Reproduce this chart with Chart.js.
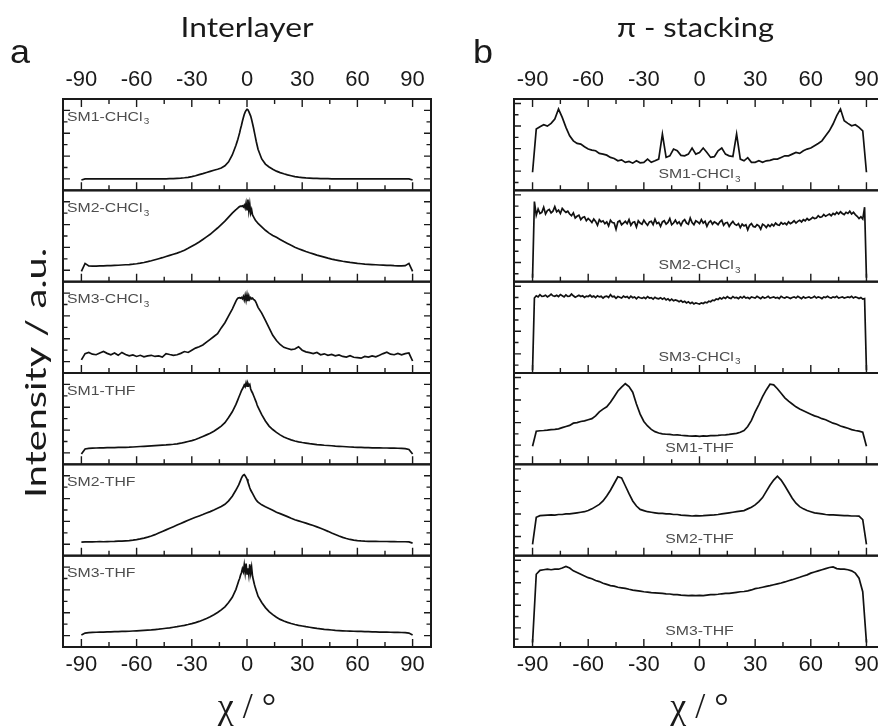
<!DOCTYPE html>
<html><head><meta charset="utf-8">
<script src="https://cdn.jsdelivr.net/npm/chart.js@4.4.1/dist/chart.umd.min.js"></script>
<style>
html,body{margin:0;padding:0;background:#fff;overflow:hidden;width:878px;height:728px;}
#wrap{position:relative;width:878px;height:728px;overflow:hidden;background:#fff;}
#cL{position:absolute;left:0;top:0;width:470px;height:728px;}
#cR{position:absolute;left:470px;top:0;width:420px;height:728px;}
</style></head><body>
<div id="wrap"><canvas id="cL" width="470" height="728"></canvas><canvas id="cR" width="420" height="728"></canvas></div>
<script>
// ---------- data ----------
const samples = ['SM1-CHCl₃','SM2-CHCl₃','SM3-CHCl₃','SM1-THF','SM2-THF','SM3-THF'];
const xTickMajor = [-90,-60,-30,0,30,60,90];
const xTickMinor = [-75,-45,-15,15,45,75];
const yTicksInter = [0,1,2,3,4,5,6];
const yTicksPi = [0,1,2,3,4,5,6,7];

// chi grid for interlayer profiles (finer around the peak)
const chiL = [
 -90,-88,-86,-84,-82,-80,-78,-76,-74,-72,-70,-68,-66,-64,-62,-60,-58,-56,-54,-52,
 -50,-48,-46,-44,-42,-40,-38,-36,-34,-32,-30,-28,-26,-24,-22,-20,-18,-16,-14,-12,-10,-8,
 -6,-5.5,-5,-4.5,-4,-3.5,-3,-2.5,-2,-1.5,-1,-0.5,0,0.5,1,1.5,2,2.5,3,3.5,4,4.5,5,5.5,6,
 8,10,12,14,16,18,20,22,24,26,28,30,32,34,36,38,40,42,44,46,
 48,50,52,54,56,58,60,62,64,66,68,70,72,74,76,78,80,82,84,86,88,90
];
// chi grid for pi-stacking profiles (2 deg)
const chiR = [
 -90,-88,-86,-84,-82,-80,-78,-76,-74,-72,
 -70,-68,-66,-64,-62,-60,-58,-56,-54,-52,
 -50,-48,-46,-44,-42,-40,-38,-36,-34,-32,
 -30,-28,-26,-24,-22,-20,-18,-16,-14,-12,
 -10,-8,-6,-4,-2,0,2,4,6,8,
 10,12,14,16,18,20,22,24,26,28,
 30,32,34,36,38,40,42,44,46,48,
 50,52,54,56,58,60,62,64,66,68,
 70,72,74,76,78,80,82,84,86,88,
 90
];
// chi grid for the noisy pi-stacking profiles (1 deg)
const chiN = [
 -90,-89,-88,-87,-86,-85,-84,-83,-82,-81,
 -80,-79,-78,-77,-76,-75,-74,-73,-72,-71,
 -70,-69,-68,-67,-66,-65,-64,-63,-62,-61,
 -60,-59,-58,-57,-56,-55,-54,-53,-52,-51,
 -50,-49,-48,-47,-46,-45,-44,-43,-42,-41,
 -40,-39,-38,-37,-36,-35,-34,-33,-32,-31,
 -30,-29,-28,-27,-26,-25,-24,-23,-22,-21,
 -20,-19,-18,-17,-16,-15,-14,-13,-12,-11,
 -10,-9,-8,-7,-6,-5,-4,-3,-2,-1,
 0,1,2,3,4,5,6,7,8,9,
 10,11,12,13,14,15,16,17,18,19,
 20,21,22,23,24,25,26,27,28,29,
 30,31,32,33,34,35,36,37,38,39,
 40,41,42,43,44,45,46,47,48,49,
 50,51,52,53,54,55,56,57,58,59,
 60,61,62,63,64,65,66,67,68,69,
 70,71,72,73,74,75,76,77,78,79,
 80,81,82,83,84,85,86,87,88,89,
 90
];

// ---- Interlayer (a) intensities, a.u. ----
const interSM1CHCl3 = [
 -0.1,0,0,0.01,0,0,0,0.01,0,0,0.01,0,0,0.01,0,0,0,0.01,0,0,
 0,0,0.01,0.01,0.02,0.03,0.05,0.07,0.1,0.14,0.2,0.28,0.37,0.46,0.56,0.66,0.76,0.85,0.95,1.15,1.5,2.1,
 2.95,3.2,3.45,3.75,4.05,4.4,4.7,5.05,5.35,5.65,5.85,6.0,6.1,6.05,5.9,5.7,5.5,5.2,4.85,4.5,4.1,3.7,3.3,2.95,2.6,
 1.75,1.3,1.05,0.85,0.68,0.55,0.45,0.36,0.28,0.2,0.15,0.12,0.09,0.07,0.05,0.04,0.03,0.02,0.02,0.01,
 0.01,0,0,0.01,0,0,0,0.01,0,0,0,0,0.01,0,0,0,0,0,0,0,0,-0.1
];
const interSM2CHCl3 = [
 -0.1,0.6,0.38,0.36,0.37,0.38,0.38,0.4,0.4,0.42,0.44,0.46,0.48,0.5,0.53,0.57,0.62,0.68,0.75,0.83,
 0.92,1.01,1.1,1.2,1.3,1.4,1.5,1.62,1.76,1.92,2.1,2.28,2.48,2.7,2.92,3.15,3.42,3.7,4.0,4.3,4.65,5.0,
 5.3,5.38,5.45,5.52,5.58,5.62,5.6,5.65,5.55,5.7,5.45,5.9,5.3,6.2,5.2,5.8,5.0,5.3,4.85,4.7,4.55,4.4,4.3,4.2,4.1,
 3.8,3.5,3.25,3.05,2.88,2.7,2.52,2.35,2.18,2.02,1.88,1.76,1.64,1.53,1.43,1.33,1.24,1.15,1.06,0.98,
 0.91,0.85,0.79,0.74,0.69,0.65,0.6,0.57,0.54,0.52,0.5,0.48,0.46,0.45,0.43,0.42,0.4,0.39,0.38,0.4,0.6,-0.1
];
const interSM3CHCl3 = [
 0.15,0.7,0.8,0.65,0.6,0.75,0.88,0.72,0.6,0.75,0.55,0.8,0.62,0.5,0.58,0.45,0.55,0.42,0.5,0.55,
 0.45,0.5,0.4,0.7,0.62,0.55,0.6,0.72,0.88,0.8,1.0,1.18,1.3,1.45,1.7,1.95,2.2,2.45,2.95,3.4,4.0,4.6,
 5.3,5.45,5.55,5.58,5.6,5.55,5.62,5.5,5.7,5.4,5.8,5.35,5.85,5.3,5.75,5.45,5.6,5.5,5.55,5.45,5.4,5.3,5.15,4.95,4.75,
 4.25,3.6,2.95,2.3,1.85,1.5,1.25,1.15,1.05,1.1,1.3,1.0,0.85,0.78,0.7,0.8,0.6,0.68,0.55,0.62,
 0.5,0.58,0.45,0.4,0.52,0.38,0.35,0.3,0.45,0.4,0.5,0.42,0.55,0.7,0.82,0.65,0.6,0.72,0.6,0.7,0.75,0.05
];
const interSM1THF = [
 -0.1,0.35,0.4,0.42,0.43,0.44,0.45,0.46,0.46,0.47,0.48,0.48,0.49,0.5,0.52,0.54,0.56,0.58,0.6,0.62,
 0.64,0.66,0.68,0.7,0.73,0.76,0.8,0.85,0.92,1.0,1.08,1.18,1.3,1.44,1.58,1.72,1.9,2.12,2.35,2.65,3.1,3.6,
 4.25,4.45,4.65,4.85,5.05,5.25,5.45,5.6,5.75,5.95,5.8,6.15,5.85,6.1,5.9,6.0,5.6,5.4,5.25,5.05,4.85,4.65,4.45,4.2,4.0,
 3.35,2.8,2.35,2.05,1.8,1.58,1.4,1.26,1.14,1.04,0.97,0.91,0.86,0.81,0.77,0.73,0.7,0.67,0.65,0.63,
 0.6,0.58,0.56,0.54,0.52,0.5,0.49,0.48,0.47,0.46,0.45,0.45,0.44,0.43,0.43,0.42,0.42,0.41,0.4,0.38,0.3,-0.1
];
const interSM2THF = [
 0.18,0.2,0.2,0.21,0.22,0.23,0.22,0.23,0.24,0.25,0.27,0.28,0.3,0.32,0.36,0.41,0.47,0.54,0.62,0.72,
 0.84,0.98,1.12,1.26,1.4,1.54,1.68,1.82,1.96,2.1,2.24,2.36,2.48,2.6,2.73,2.86,3.0,3.15,3.3,3.5,3.8,4.2,
 4.75,4.9,5.05,5.2,5.4,5.6,5.8,5.95,6.05,6.1,6.0,5.85,5.7,5.45,5.2,4.95,4.75,4.6,4.45,4.3,4.15,4.0,3.88,3.78,3.68,
 3.45,3.28,3.14,2.98,2.8,2.68,2.55,2.42,2.28,2.15,2.05,1.95,1.85,1.74,1.64,1.52,1.4,1.27,1.13,0.98,
 0.85,0.72,0.6,0.5,0.42,0.36,0.32,0.29,0.27,0.26,0.25,0.25,0.24,0.24,0.24,0.23,0.23,0.22,0.22,0.22,0.2,0.1
];
const interSM3THF = [
 0.05,0.22,0.26,0.28,0.29,0.3,0.31,0.32,0.33,0.34,0.35,0.36,0.37,0.38,0.4,0.42,0.44,0.46,0.48,0.5,
 0.53,0.56,0.6,0.64,0.68,0.73,0.78,0.84,0.9,0.97,1.05,1.14,1.24,1.36,1.5,1.65,1.82,2.02,2.25,2.52,2.9,3.35,
 4.05,4.3,4.55,4.8,5.0,5.3,5.5,5.85,5.6,6.2,5.5,6.3,5.4,5.9,5.3,6.25,5.45,6.0,5.2,4.85,4.5,4.2,3.95,3.7,3.45,
 2.9,2.45,2.1,1.83,1.6,1.42,1.28,1.16,1.06,0.97,0.9,0.84,0.78,0.73,0.68,0.63,0.59,0.55,0.52,0.49,
 0.46,0.44,0.42,0.4,0.39,0.38,0.37,0.36,0.35,0.34,0.33,0.32,0.31,0.3,0.3,0.29,0.28,0.28,0.27,0.26,0.22,0.05
];

// ---- pi-stacking (b) intensities, a.u. ----
const piSM1CHCl3 = [
 0.9,4.73,4.94,5.12,5.0,5.24,5.62,6.51,5.77,4.88,
 4.14,3.69,3.46,3.4,3.16,2.96,2.87,2.81,2.58,2.51,
 2.42,2.22,2.13,1.92,2.0,1.78,1.86,1.71,1.92,1.74,
 1.78,2.07,1.78,1.92,2.07,4.29,2.22,2.36,2.96,2.81,
 2.4,2.36,2.51,3.05,2.51,2.66,3.05,2.66,2.22,2.29,
 2.81,3.05,2.51,2.36,2.3,4.29,2.07,1.92,2.2,1.78,
 1.78,1.92,1.78,1.92,1.96,2.07,2.07,2.22,2.36,2.36,
 2.51,2.66,2.58,2.81,2.96,3.05,3.25,3.46,3.69,4.14,
 4.58,5.18,5.92,6.51,5.47,5.24,5.03,5.12,4.88,4.58,
 0.9
];
const piSM2CHCl3 = [
 -0.35,6.4,5.2,5.75,5.35,5.45,5.9,5.3,5.6,5.7,
 5.4,5.55,5.95,5.5,5.65,5.35,5.8,5.6,5.45,5.55,
 5.3,5.15,5.4,4.95,5.1,5.2,4.8,5.0,5.05,4.7,
 4.9,4.75,4.55,4.85,4.65,4.3,4.8,4.6,4.7,4.45,
 4.6,4.25,4.75,4.55,4.5,3.95,4.6,4.7,4.35,4.5,
 4.65,4.45,4.8,4.3,4.55,4.6,4.15,4.7,4.5,4.4,
 4.75,4.5,4.3,4.6,4.65,4.35,4.85,4.45,4.55,4.2,
 4.6,4.7,4.4,4.55,4.9,4.35,4.5,4.75,4.45,4.6,
 4.3,4.65,4.8,4.5,4.4,4.95,4.55,4.35,4.7,4.6,
 4.45,4.8,4.5,4.65,4.2,4.55,4.7,4.4,4.6,4.5,
 4.35,4.6,4.75,4.3,4.5,4.55,4.2,4.45,4.65,4.4,
 4.3,4.45,4.1,4.4,4.25,4.35,3.9,4.3,4.45,4.2,
 4.15,4.35,4.25,3.95,4.4,4.3,4.1,4.35,4.2,4.4,
 4.25,4.5,4.35,4.3,4.55,4.4,4.5,4.35,4.6,4.45,
 4.55,4.7,4.5,4.65,4.75,4.6,4.8,4.7,4.9,4.75,
 4.85,5.0,4.9,4.95,5.15,5.0,5.05,5.25,5.1,5.2,
 5.3,5.15,5.35,5.25,5.45,5.3,5.5,5.35,5.25,5.45,
 5.35,5.55,5.3,5.45,5.25,5.1,4.9,5.05,4.85,5.9,
 -0.35
];
const piSM3CHCl3 = [
 -0.45,5.95,6.15,6.05,6.25,6.1,6.12,6.2,6.05,6.15,
 6.3,6.15,6.1,6.2,6.08,6.25,6.15,6.05,6.22,6.1,
 6.12,6.3,6.15,6.02,6.1,6.2,6.08,6.15,6.0,6.12,
 6.08,6.2,6.05,6.12,5.98,6.15,6.05,6.1,5.95,6.08,
 6.12,6.0,6.25,6.05,6.1,5.92,6.08,6.02,5.95,6.12,
 6.02,6.08,5.92,6.12,5.98,6.05,5.88,6.05,5.98,5.92,
 6.02,5.9,6.08,5.95,5.98,5.85,6.02,5.92,5.88,5.98,
 5.85,5.95,5.78,5.88,5.72,5.85,5.7,5.78,5.72,5.62,
 5.72,5.58,5.66,5.52,5.62,5.46,5.56,5.42,5.52,5.46,
 5.42,5.52,5.46,5.58,5.52,5.66,5.62,5.76,5.72,5.86,
 5.82,5.96,5.86,6.02,5.92,6.08,5.96,5.9,6.08,5.96,
 6.0,5.9,6.05,5.95,6.1,5.95,6.0,5.9,6.05,6.0,
 5.95,6.1,6.0,5.9,6.05,5.95,6.0,6.1,5.95,6.0,
 6.05,5.95,6.0,5.9,6.1,6.0,5.95,6.05,6.0,5.9,
 6.0,6.05,5.95,6.1,6.0,5.9,6.05,5.95,6.0,6.05,
 5.95,6.0,6.1,5.95,6.05,6.0,5.9,6.05,6.0,6.1,
 6.0,5.95,6.05,6.0,6.1,5.95,6.0,6.05,5.95,6.0,
 6.05,6.0,6.1,5.95,6.05,6.0,5.9,6.0,5.85,5.9,
 -0.45
];
const piSM1THF = [
 0.9,2.24,2.28,2.3,2.33,2.37,2.4,2.45,2.55,2.65,
 2.75,2.95,3.0,3.1,3.15,3.25,3.35,3.6,3.95,4.2,
 4.4,4.8,5.3,5.8,6.15,6.45,6.2,5.7,4.65,3.75,
 3.1,2.7,2.4,2.2,2.08,2.0,1.97,1.95,1.9,1.92,
 1.88,1.85,1.82,1.8,1.83,1.78,1.82,1.8,1.84,1.85,
 1.87,1.9,1.92,1.95,2.0,2.05,2.15,2.3,2.65,3.2,
 3.95,4.6,5.3,5.9,6.4,6.35,6.0,5.6,5.2,4.9,
 4.65,4.4,4.2,4.05,3.9,3.75,3.6,3.5,3.35,3.25,
 3.1,2.95,2.85,2.7,2.6,2.5,2.38,2.3,2.25,2.15,
 0.9
];
const piSM2THF = [
 0.3,2.7,2.85,2.88,2.9,2.92,2.9,2.95,2.95,3.0,
 3.0,3.05,3.1,3.15,3.2,3.3,3.45,3.65,3.85,4.15,
 4.6,5.1,5.7,6.3,6.2,5.5,4.8,4.15,3.7,3.4,
 3.3,3.2,3.15,3.1,3.05,3.05,3.0,3.0,2.95,2.95,
 2.9,2.88,2.85,2.82,2.85,2.83,2.85,2.88,2.9,2.92,
 2.95,3.0,3.05,3.1,3.15,3.2,3.25,3.3,3.45,3.6,
 3.8,4.1,4.45,5.0,5.55,6.0,6.35,6.0,5.5,4.95,
 4.4,3.95,3.65,3.45,3.3,3.2,3.1,3.05,3.0,2.95,
 2.92,2.92,2.9,2.88,2.85,2.85,2.82,2.82,2.8,2.5,
 0.3
];
const piSM3THF = [
 -0.3,5.75,6.1,6.15,6.2,6.15,6.2,6.2,6.3,6.45,
 6.3,6.05,5.9,5.75,5.6,5.45,5.35,5.2,5.1,4.95,
 4.85,4.75,4.7,4.6,4.55,4.5,4.42,4.35,4.3,4.25,
 4.2,4.17,4.12,4.1,4.08,4.05,4.02,4.0,3.95,3.95,
 3.9,3.88,3.85,3.87,3.85,3.88,3.85,3.9,3.95,3.95,
 3.98,4.02,4.05,4.05,4.1,4.15,4.2,4.22,4.28,4.36,
 4.48,4.53,4.6,4.67,4.74,4.82,4.9,4.98,5.07,5.17,
 5.27,5.38,5.48,5.6,5.7,5.85,5.95,6.05,6.15,6.25,
 6.35,6.4,6.25,6.2,6.2,6.15,6.05,5.85,5.4,4.2,
 -0.3
];

const interSeries = [interSM1CHCl3, interSM2CHCl3, interSM3CHCl3, interSM1THF, interSM2THF, interSM3THF];
const interChi = [chiL, chiL, chiL, chiL, chiL, chiL];
const piSeries = [piSM1CHCl3, piSM2CHCl3, piSM3CHCl3, piSM1THF, piSM2THF, piSM3THF];
const piChi = [chiR, chiN, chiN, chiR, chiR, chiR];

// sanity check of lengths
[[interSeries, interChi, 'inter'], [piSeries, piChi, 'pi']].forEach(([ser, chis, nm]) => {
  ser.forEach((s, i) => { if (s.length !== chis[i].length) throw new Error(nm + ' series ' + i + ' length ' + s.length + ' vs ' + chis[i].length); });
});

// ---------- drawing ----------
const INK = '#1a1a1a';
const axisIds = ['y1','y2','y3','y4','y5','y6'];

function drawStretched(ctx, text, x, y, font, targetW, align, rot) {
  ctx.save();
  ctx.font = font;
  const w = ctx.measureText(text).width;
  const sx = targetW ? targetW / w : 1;
  ctx.translate(x, y);
  if (rot) ctx.rotate(rot);
  ctx.scale(sx, 1);
  ctx.textAlign = align || 'center';
  ctx.textBaseline = 'alphabetic';
  ctx.fillStyle = INK;
  ctx.fillText(text, 0, 0);
  ctx.restore();
}

function drawPanelLabel(ctx, name, x, y, align) {
  const SX = 1.17;
  const hasSub = name.indexOf('₃') >= 0;
  const main = name.replace('₃', '');
  const mainFont = '13.5px "Liberation Sans", Arial, sans-serif';
  const subFont = '8.5px "Liberation Sans", Arial, sans-serif';
  ctx.save();
  ctx.font = mainFont;
  const wMain = ctx.measureText(main).width;
  ctx.font = subFont;
  const wSub = hasSub ? ctx.measureText('3').width + 1 : 0;
  const total = (wMain + wSub) * SX;
  const x0 = align === 'center' ? x - total / 2 : x;
  ctx.translate(x0, y);
  ctx.scale(SX, 1);
  ctx.fillStyle = '#4d4d4d';
  ctx.textAlign = 'left';
  ctx.textBaseline = 'middle';
  ctx.font = mainFont;
  ctx.fillText(main, 0, 0);
  if (hasSub) { ctx.font = subFont; ctx.fillText('3', wMain + 1, 5); }
  ctx.restore();
}

const panelDeco = {
  id: 'panelDeco',
  afterDatasetsDraw(chart, args, o) {
    const ctx = chart.ctx;
    const area = chart.chartArea;
    const xs = chart.scales.x;
    ctx.save();
    ctx.strokeStyle = INK;
    ctx.lineCap = 'butt';
    axisIds.forEach((id, i) => {
      const s = chart.scales[id];
      // y tick marks (inside, both sides)
      ctx.lineWidth = 1.4;
      ctx.beginPath();
      s.ticks.forEach(t => {
        const y = s.getPixelForValue(t.value);
        const major = Math.abs(t.value % 2) === o.majorRem;
        const len = major ? 7 : 4.5;
        ctx.moveTo(area.left, y); ctx.lineTo(area.left + len, y);
        ctx.moveTo(area.right, y); ctx.lineTo(area.right - len, y);
      });
      // x tick marks at the bottom of each panel (pointing up)
      xTickMajor.forEach(v => { const px = xs.getPixelForValue(v); ctx.moveTo(px, s.bottom); ctx.lineTo(px, s.bottom - 8); });
      xTickMinor.forEach(v => { const px = xs.getPixelForValue(v); ctx.moveTo(px, s.bottom); ctx.lineTo(px, s.bottom - 5); });
      if (i === 0) {
        xTickMajor.forEach(v => { const px = xs.getPixelForValue(v); ctx.moveTo(px, s.top); ctx.lineTo(px, s.top + 8); });
        xTickMinor.forEach(v => { const px = xs.getPixelForValue(v); ctx.moveTo(px, s.top); ctx.lineTo(px, s.top + 5); });
      }
      ctx.stroke();
      // frame
      ctx.lineWidth = 2;
      ctx.strokeRect(area.left, s.top, area.right - area.left, s.bottom - s.top);
      // sample label
      if (o.labelPos === 'topleft') drawPanelLabel(ctx, samples[i], area.left + 4, s.top + 18, 'left');
      else drawPanelLabel(ctx, samples[i], xs.getPixelForValue(0), s.bottom - 16, 'center');
    });
    ctx.restore();
    // letters, column titles, y title
    drawStretched(ctx, o.letter, o.letterX, 63, '33px "Liberation Sans", Arial, sans-serif', o.letterW, 'left');
    const midX = (area.left + area.right) / 2;
    drawStretched(ctx, o.title, midX + o.titleDx, 37, '27px Lato, "Open Sans", sans-serif', o.titleW, 'center');
    if (o.yTitle) drawStretched(ctx, o.yTitle, 46, 373, '29px Lato, "Open Sans", sans-serif', 250, 'center', -Math.PI / 2);
  }
};

function makeChart(canvasId, series, chis, deco, pad, yMin, yMax, yTicks) {
  const scales = {
    x: {
      type: 'linear', position: 'bottom', min: -100, max: 100,
      afterBuildTicks: s => { s.ticks = xTickMajor.map(v => ({value: v})); },
      afterFit: s => { s.height = 81; },
      grid: {display: false, drawTicks: false}, border: {display: false},
      ticks: {font: {family: '"Liberation Sans", Arial, sans-serif', size: 22}, color: INK, padding: 5, maxRotation: 0, autoSkip: false},
      title: {display: true, text: 'χ / °', font: {family: '"Liberation Serif", serif', size: 36}, color: INK, padding: {top: 0, bottom: -2}}
    },
    x2: {
      type: 'linear', position: 'top', min: -100, max: 100,
      afterBuildTicks: s => { s.ticks = xTickMajor.map(v => ({value: v})); },
      afterFit: s => { s.height = 99; },
      grid: {display: false, drawTicks: false}, border: {display: false},
      ticks: {font: {family: '"Liberation Sans", Arial, sans-serif', size: 22}, color: INK, padding: 6, maxRotation: 0, autoSkip: false}
    }
  };
  axisIds.forEach((id, i) => {
    scales[id] = {
      type: 'linear', position: 'left', stack: 'panels', stackWeight: 1, weight: 10 - i,
      min: yMin, max: yMax,
      afterBuildTicks: s => { s.ticks = yTicks.map(v => ({value: v})); },
      afterFit: s => { s.width = 0; },
      grid: {display: false, drawTicks: false}, border: {display: false}, ticks: {display: false}
    };
  });
  return new Chart(document.getElementById(canvasId), {
    type: 'line',
    data: {
      datasets: series.map((arr, i) => ({
        label: samples[i],
        data: chis[i].map((c, j) => ({x: c, y: arr[j]})),
        xAxisID: 'x', yAxisID: axisIds[i],
        borderColor: '#111', borderWidth: 1.7, pointRadius: 0, fill: false, tension: 0
      }))
    },
    options: {
      responsive: false, animation: false, devicePixelRatio: 1,
      layout: {padding: pad},
      scales,
      plugins: {legend: {display: false}, tooltip: {enabled: false}, panelDeco: deco}
    },
    plugins: [panelDeco]
  });
}

makeChart('cL', interSeries, interChi,
  {majorRem: 0, labelPos: 'topleft', letter: 'a', letterX: 10, letterW: 20, title: 'Interlayer', titleW: 133, titleDx: 0, yTitle: 'Intensity / a.u.'},
  {left: 63, right: 39, top: 0, bottom: 0}, -1, 7, yTicksInter);
makeChart('cR', piSeries, piChi,
  {majorRem: 1, labelPos: 'bottom', letter: 'b', letterX: 3, letterW: 20, title: 'π - stacking', titleW: 157, titleDx: -4, yTitle: null},
  {left: 44, right: 5, top: 0, bottom: 0}, -0.7, 7.4, yTicksPi);
</script>
</body></html>
